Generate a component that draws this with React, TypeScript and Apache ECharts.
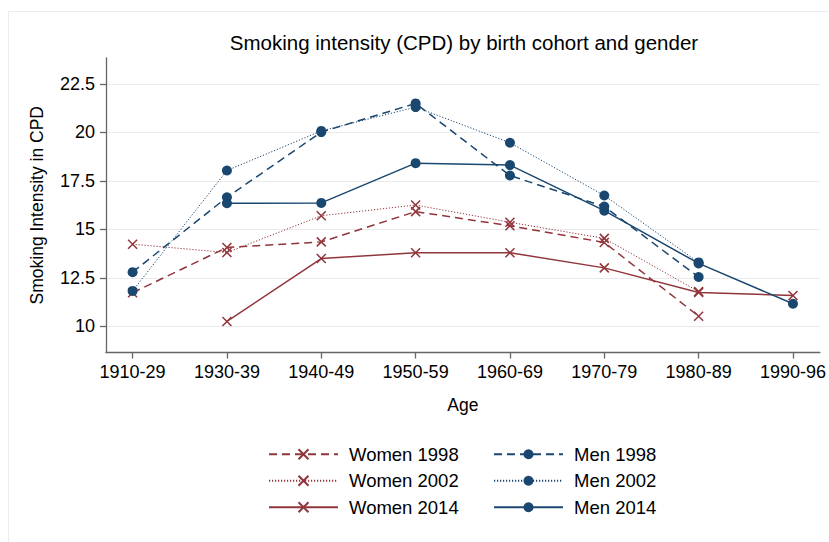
import React, { useEffect, useRef } from "react";
import * as echarts from "echarts";

const categories = ["1910-29", "1930-39", "1940-49", "1950-59", "1960-69", "1970-79", "1980-89", "1990-96"];
const yTicks = [10, 12.5, 15, 17.5, 20, 22.5];

const women1998 = [11.74, 14.07, 14.36, 15.92, 15.19, 14.33, 10.53, null];
const women2002 = [14.24, 13.81, 15.71, 16.26, 15.37, 14.54, 11.80, null];
const women2014 = [null, 10.26, 13.50, 13.80, 13.80, 13.02, 11.75, 11.60];
const men1998 = [12.80, 16.66, 20.02, 21.50, 17.78, 16.18, 12.55, null];
const men2002 = [11.83, 18.04, 20.08, 21.31, 19.47, 16.75, 13.30, null];
const men2014 = [null, 16.35, 16.37, 18.42, 18.32, 15.97, 13.25, 11.17];

const RED = "#90353b";
const BLUE = "#1a476f";
const FONT = "'Liberation Sans', Arial, Helvetica, sans-serif";
const CROSS = "path://M0,0L10,10M0,10L10,0";

const toPairs = (arr: (number | null)[]) =>
  arr.map((v, i) => [i, v]).filter((p) => p[1] !== null);

export default function App() {
  const ref = useRef<HTMLDivElement>(null);
  useEffect(() => {
    if (!ref.current) return;
    const chart = echarts.init(ref.current, null, { renderer: "svg" });

    const mk = (
      name: string,
      data: (number | null)[],
      color: string,
      style: "dashed" | "dotted" | "solid",
      marker: "cross" | "circle"
    ) => {
      const lt =
        style === "dashed" ? [8, 5] : style === "dotted" ? [1.2, 1.8] : "solid";
      const lw = style === "dotted" ? 1 : 1.5;
      return {
        name,
        type: "line",
        data: toPairs(data),
        symbol: marker === "cross" ? CROSS : "circle",
        symbolSize: marker === "cross" ? 9 : 10,
        showSymbol: true,
        lineStyle: { color, width: lw, type: lt },
        itemStyle:
          marker === "cross"
            ? { color: color, borderColor: color, borderWidth: 1.5 }
            : { color: color, borderWidth: 0 },
        emphasis: { disabled: true },
      };
    };

    const legendCommon = {
      orient: "vertical",
      itemWidth: 69,
      itemHeight: 12.5,
      itemGap: 7.5,
      selectedMode: false,
      textStyle: {
        fontFamily: FONT,
        fontSize: 18.5,
        color: "#000",
        lineHeight: 12.5,
        padding: [0, 0, 0, 6],
      },
    };

    chart.setOption({
      animation: false,
      backgroundColor: "#fff",
      graphic: [
        {
          type: "rect",
          shape: { x: 8.5, y: 11.5, width: 900, height: 600 },
          style: { fill: "none", stroke: "#e6eef0", lineWidth: 1 },
          silent: true,
        },
        {
          type: "text",
          x: 464,
          y: 42,
          silent: true,
          style: {
            text: "Smoking intensity (CPD) by birth cohort and gender",
            fontFamily: FONT,
            fontSize: 20.5,
            fill: "#000",
            textAlign: "center",
            textVerticalAlign: "middle",
          },
        },
      ],
      legend: [
        {
          ...legendCommon,
          left: 263,
          top: 439.75,
          data: ["Women 1998", "Women 2002", "Women 2014"],
        },
        {
          ...legendCommon,
          left: 488,
          top: 439.75,
          data: ["Men 1998", "Men 2002", "Men 2014"],
        },
      ],
      grid: { left: 106, right: 6.3, top: 58, bottom: 189.5, containLabel: false },
      xAxis: {
        type: "value",
        min: -0.282,
        max: 7.285,
        name: "Age",
        nameLocation: "middle",
        nameGap: 43,
        nameTextStyle: { fontFamily: FONT, fontSize: 17.5, color: "#000" },
        axisLine: { show: true, onZero: false, lineStyle: { color: "#666", width: 1.3 } },
        axisTick: {
          show: true,
          customValues: categories.map((_, i) => i),
          length: 6,
          lineStyle: { color: "#666", width: 1.3 },
        },
        axisLabel: {
          customValues: categories.map((_, i) => i),
          formatter: (v: number) => categories[Math.round(v)] ?? "",
          fontFamily: FONT,
          fontSize: 18,
          color: "#000",
          margin: 10,
        },
        splitLine: { show: false },
      },
      yAxis: {
        type: "value",
        min: 8.657,
        max: 23.84,
        name: "Smoking Intensity in CPD",
        nameLocation: "middle",
        nameGap: 60,
        nameTextStyle: { fontFamily: FONT, fontSize: 17.5, color: "#000" },
        axisLine: { show: true, onZero: false, lineStyle: { color: "#666", width: 1.3 } },
        axisTick: {
          show: true,
          customValues: yTicks,
          length: 6,
          lineStyle: { color: "#666", width: 1.3 },
        },
        axisLabel: {
          customValues: yTicks,
          formatter: (v: number) => String(v),
          fontFamily: FONT,
          fontSize: 18,
          color: "#000",
          margin: 11,
        },
        splitLine: { show: true, lineStyle: { color: "#eaeaea", width: 1 } },
      },
      series: [
        mk("Women 1998", women1998, RED, "dashed", "cross"),
        mk("Women 2002", women2002, RED, "dotted", "cross"),
        mk("Women 2014", women2014, RED, "solid", "cross"),
        mk("Men 1998", men1998, BLUE, "dashed", "circle"),
        mk("Men 2002", men2002, BLUE, "dotted", "circle"),
        mk("Men 2014", men2014, BLUE, "solid", "circle"),
      ],
    });
    return () => chart.dispose();
  }, []);
  return <div ref={ref} style={{ width: 829, height: 542, position: "fixed", left: 0, top: 0 }} />;
}
